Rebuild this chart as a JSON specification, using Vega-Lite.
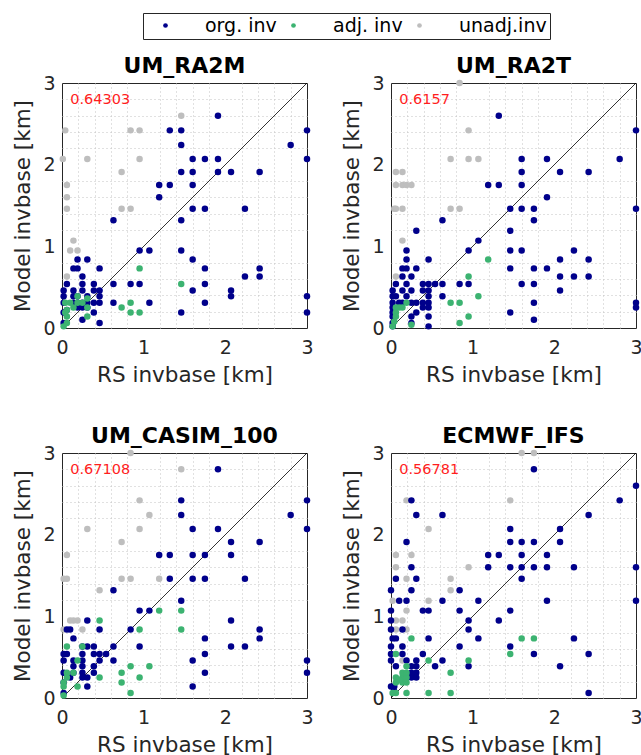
{
  "$schema": "https://vega.github.io/schema/vega-lite/v6.json",
  "background": "white",
  "padding": {"left": 12, "top": 12, "right": 5, "bottom": 5},
  "datasets": {
    "ra2m": [
      {"t":"u","x":1.46,"y":2.60},{"t":"u","x":0.04,"y":2.42},{"t":"u","x":0.84,"y":2.42},{"t":"u","x":0.95,"y":2.42},{"t":"u","x":0.01,"y":2.07},{"t":"u","x":0.31,"y":2.07},{"t":"u","x":0.95,"y":2.07},{"t":"u","x":0.73,"y":1.91},{"t":"u","x":0.06,"y":1.75},{"t":"u","x":0.06,"y":1.60},{"t":"u","x":0.06,"y":1.46},{"t":"u","x":0.73,"y":1.46},{"t":"u","x":0.84,"y":1.46},{"t":"u","x":0.14,"y":1.07},{"t":"u","x":0.10,"y":0.95},{"t":"u","x":0.19,"y":0.95},{"t":"u","x":0.06,"y":0.63},
      {"t":"o","x":1.91,"y":2.60},{"t":"o","x":1.32,"y":2.42},{"t":"o","x":1.46,"y":2.42},{"t":"o","x":1.46,"y":2.24},{"t":"o","x":1.60,"y":2.07},{"t":"o","x":1.75,"y":2.07},{"t":"o","x":1.91,"y":2.07},{"t":"o","x":1.46,"y":1.91},{"t":"o","x":1.60,"y":1.91},{"t":"o","x":1.91,"y":1.91},{"t":"o","x":2.07,"y":1.91},{"t":"o","x":2.42,"y":1.91},{"t":"o","x":1.19,"y":1.75},{"t":"o","x":1.32,"y":1.75},{"t":"o","x":1.60,"y":1.75},{"t":"o","x":1.19,"y":1.60},{"t":"o","x":1.60,"y":1.46},{"t":"o","x":1.75,"y":1.46},{"t":"o","x":2.24,"y":1.46},{"t":"o","x":0.63,"y":1.32},{"t":"o","x":1.46,"y":1.32},{"t":"o","x":0.95,"y":0.95},{"t":"o","x":1.07,"y":0.95},{"t":"o","x":1.46,"y":0.95},{"t":"o","x":0.19,"y":0.84},{"t":"o","x":0.31,"y":0.84},{"t":"o","x":1.60,"y":0.84},{"t":"o","x":0.14,"y":0.73},{"t":"o","x":0.19,"y":0.73},{"t":"o","x":0.46,"y":0.73},{"t":"o","x":1.75,"y":0.73},{"t":"o","x":2.42,"y":0.73},{"t":"o","x":0.25,"y":0.63},{"t":"o","x":2.24,"y":0.63},{"t":"o","x":2.42,"y":0.63},{"t":"o","x":0.06,"y":0.54},{"t":"o","x":0.25,"y":0.54},{"t":"o","x":0.39,"y":0.54},{"t":"o","x":0.63,"y":0.54},{"t":"o","x":0.84,"y":0.54},{"t":"o","x":0.95,"y":0.54},{"t":"o","x":1.75,"y":0.54},{"t":"o","x":0.02,"y":0.46},{"t":"o","x":0.14,"y":0.46},{"t":"o","x":0.25,"y":0.46},{"t":"o","x":0.39,"y":0.46},{"t":"o","x":0.46,"y":0.46},{"t":"o","x":1.60,"y":0.46},{"t":"o","x":2.07,"y":0.46},{"t":"o","x":0.02,"y":0.39},{"t":"o","x":0.19,"y":0.39},{"t":"o","x":0.31,"y":0.39},{"t":"o","x":0.46,"y":0.39},{"t":"o","x":2.07,"y":0.39},{"t":"o","x":0.02,"y":0.31},{"t":"o","x":0.25,"y":0.31},{"t":"o","x":0.31,"y":0.31},{"t":"o","x":0.39,"y":0.31},{"t":"o","x":0.46,"y":0.31},{"t":"o","x":0.63,"y":0.31},{"t":"o","x":1.07,"y":0.31},{"t":"o","x":1.75,"y":0.31},{"t":"o","x":0.19,"y":0.25},{"t":"o","x":0.31,"y":0.25},{"t":"o","x":0.02,"y":0.19},{"t":"o","x":0.39,"y":0.19},{"t":"o","x":1.46,"y":0.19},{"t":"o","x":0.25,"y":0.10},{"t":"o","x":0.02,"y":0.06},{"t":"o","x":0.46,"y":0.06},{"t":"o","x":0.14,"y":0.31},{"t":"o","x":0.06,"y":0.22},{"t":"o","x":2.80,"y":2.24},{"t":"o","x":3.0,"y":2.42},{"t":"o","x":3.0,"y":2.07},{"t":"o","x":3.0,"y":0.39},{"t":"o","x":3.0,"y":0.19},{"t":"o","x":0.19,"y":0.31},{"t":"o","x":0.25,"y":0.25},{"t":"o","x":0.14,"y":0.39},
      {"t":"a","x":0.95,"y":0.73},{"t":"a","x":1.46,"y":0.54},{"t":"a","x":0.19,"y":0.39},{"t":"a","x":0.04,"y":0.31},{"t":"a","x":0.10,"y":0.31},{"t":"a","x":0.31,"y":0.36},{"t":"a","x":0.31,"y":0.25},{"t":"a","x":0.73,"y":0.25},{"t":"a","x":0.84,"y":0.31},{"t":"a","x":0.84,"y":0.19},{"t":"a","x":0.95,"y":0.19},{"t":"a","x":0.31,"y":0.14},{"t":"a","x":0.06,"y":0.22},{"t":"a","x":0.06,"y":0.14},{"t":"a","x":0.06,"y":0.06},{"t":"a","x":0.02,"y":0.02},{"t":"a","x":0.14,"y":0.25},{"t":"a","x":0.04,"y":0.19},{"t":"a","x":0.19,"y":0.31},{"t":"a","x":0.25,"y":0.31}
    ],
    "ra2t": [
      {"t":"u","x":0.84,"y":3.0},{"t":"u","x":0.95,"y":2.42},{"t":"u","x":0.73,"y":2.07},{"t":"u","x":0.95,"y":2.07},{"t":"u","x":1.07,"y":2.07},{"t":"u","x":0.06,"y":1.91},{"t":"u","x":0.14,"y":1.91},{"t":"u","x":0.06,"y":1.75},{"t":"u","x":0.14,"y":1.75},{"t":"u","x":0.19,"y":1.75},{"t":"u","x":0.25,"y":1.75},{"t":"u","x":0.04,"y":1.46},{"t":"u","x":0.06,"y":1.46},{"t":"u","x":0.14,"y":1.46},{"t":"u","x":0.73,"y":1.46},{"t":"u","x":0.84,"y":1.46},{"t":"u","x":0.14,"y":1.07},{"t":"u","x":0.06,"y":0.63},
      {"t":"o","x":1.32,"y":2.60},{"t":"o","x":3.0,"y":2.42},{"t":"o","x":1.60,"y":2.07},{"t":"o","x":1.91,"y":2.07},{"t":"o","x":2.80,"y":2.07},{"t":"o","x":1.60,"y":1.91},{"t":"o","x":2.07,"y":1.91},{"t":"o","x":2.42,"y":1.91},{"t":"o","x":1.19,"y":1.75},{"t":"o","x":1.32,"y":1.75},{"t":"o","x":1.60,"y":1.75},{"t":"o","x":1.91,"y":1.60},{"t":"o","x":1.46,"y":1.46},{"t":"o","x":1.60,"y":1.46},{"t":"o","x":1.75,"y":1.46},{"t":"o","x":3.0,"y":1.46},{"t":"o","x":0.63,"y":1.32},{"t":"o","x":1.75,"y":1.32},{"t":"o","x":0.31,"y":1.19},{"t":"o","x":1.46,"y":1.19},{"t":"o","x":1.07,"y":1.07},{"t":"o","x":0.19,"y":0.95},{"t":"o","x":0.95,"y":0.95},{"t":"o","x":1.46,"y":0.95},{"t":"o","x":1.60,"y":0.95},{"t":"o","x":2.24,"y":0.95},{"t":"o","x":0.19,"y":0.84},{"t":"o","x":0.46,"y":0.84},{"t":"o","x":2.07,"y":0.84},{"t":"o","x":2.42,"y":0.84},{"t":"o","x":0.14,"y":0.73},{"t":"o","x":0.19,"y":0.73},{"t":"o","x":0.31,"y":0.73},{"t":"o","x":1.46,"y":0.73},{"t":"o","x":1.75,"y":0.73},{"t":"o","x":1.91,"y":0.73},{"t":"o","x":0.14,"y":0.63},{"t":"o","x":0.25,"y":0.63},{"t":"o","x":2.07,"y":0.63},{"t":"o","x":2.24,"y":0.63},{"t":"o","x":2.42,"y":0.63},{"t":"o","x":0.06,"y":0.54},{"t":"o","x":0.19,"y":0.54},{"t":"o","x":0.39,"y":0.54},{"t":"o","x":0.46,"y":0.54},{"t":"o","x":0.54,"y":0.54},{"t":"o","x":0.63,"y":0.54},{"t":"o","x":0.84,"y":0.54},{"t":"o","x":0.95,"y":0.54},{"t":"o","x":1.60,"y":0.54},{"t":"o","x":1.75,"y":0.54},{"t":"o","x":0.02,"y":0.46},{"t":"o","x":0.14,"y":0.46},{"t":"o","x":0.25,"y":0.46},{"t":"o","x":0.39,"y":0.46},{"t":"o","x":0.46,"y":0.46},{"t":"o","x":2.07,"y":0.46},{"t":"o","x":0.02,"y":0.39},{"t":"o","x":0.19,"y":0.39},{"t":"o","x":0.46,"y":0.39},{"t":"o","x":0.63,"y":0.39},{"t":"o","x":0.02,"y":0.31},{"t":"o","x":0.14,"y":0.31},{"t":"o","x":0.25,"y":0.31},{"t":"o","x":0.31,"y":0.31},{"t":"o","x":0.39,"y":0.31},{"t":"o","x":0.46,"y":0.31},{"t":"o","x":1.75,"y":0.31},{"t":"o","x":3.0,"y":0.31},{"t":"o","x":0.02,"y":0.25},{"t":"o","x":0.39,"y":0.25},{"t":"o","x":0.46,"y":0.25},{"t":"o","x":3.0,"y":0.25},{"t":"o","x":0.02,"y":0.19},{"t":"o","x":0.31,"y":0.19},{"t":"o","x":1.46,"y":0.19},{"t":"o","x":0.02,"y":0.14},{"t":"o","x":0.25,"y":0.14},{"t":"o","x":0.46,"y":0.14},{"t":"o","x":1.75,"y":0.10},{"t":"o","x":0.02,"y":0.06},{"t":"o","x":0.25,"y":0.06},{"t":"o","x":0.46,"y":0.02},{"t":"o","x":0.02,"y":0.02},{"t":"o","x":0.06,"y":0.39},{"t":"o","x":0.10,"y":0.31},
      {"t":"a","x":1.19,"y":0.84},{"t":"a","x":0.95,"y":0.63},{"t":"a","x":1.07,"y":0.39},{"t":"a","x":0.73,"y":0.31},{"t":"a","x":0.84,"y":0.31},{"t":"a","x":0.95,"y":0.14},{"t":"a","x":0.84,"y":0.06},{"t":"a","x":0.25,"y":0.04},{"t":"a","x":0.19,"y":0.31},{"t":"a","x":0.06,"y":0.25},{"t":"a","x":0.14,"y":0.25},{"t":"a","x":0.06,"y":0.19},{"t":"a","x":0.06,"y":0.14},{"t":"a","x":0.04,"y":0.08},{"t":"a","x":0.02,"y":0.02},{"t":"a","x":0.10,"y":0.25}
    ],
    "casim": [
      {"t":"u","x":0.84,"y":3.0},{"t":"u","x":1.46,"y":2.80},{"t":"u","x":0.95,"y":2.42},{"t":"u","x":1.07,"y":2.24},{"t":"u","x":0.31,"y":2.07},{"t":"u","x":0.95,"y":2.07},{"t":"u","x":0.73,"y":1.91},{"t":"u","x":0.06,"y":1.75},{"t":"u","x":0.02,"y":1.46},{"t":"u","x":0.06,"y":1.46},{"t":"u","x":0.73,"y":1.46},{"t":"u","x":0.84,"y":1.46},{"t":"u","x":1.19,"y":1.46},{"t":"u","x":0.46,"y":1.32},{"t":"u","x":0.10,"y":0.95},{"t":"u","x":0.14,"y":0.95},{"t":"u","x":0.19,"y":0.95},{"t":"u","x":0.02,"y":0.84},{"t":"u","x":0.25,"y":0.84},
      {"t":"o","x":1.91,"y":2.80},{"t":"o","x":1.46,"y":2.42},{"t":"o","x":1.46,"y":2.24},{"t":"o","x":1.60,"y":2.07},{"t":"o","x":1.91,"y":2.07},{"t":"o","x":2.07,"y":1.91},{"t":"o","x":2.42,"y":1.91},{"t":"o","x":1.19,"y":1.75},{"t":"o","x":1.32,"y":1.75},{"t":"o","x":1.60,"y":1.75},{"t":"o","x":1.75,"y":1.75},{"t":"o","x":2.07,"y":1.75},{"t":"o","x":1.32,"y":1.46},{"t":"o","x":1.60,"y":1.46},{"t":"o","x":1.75,"y":1.46},{"t":"o","x":2.24,"y":1.46},{"t":"o","x":0.63,"y":1.32},{"t":"o","x":1.46,"y":1.19},{"t":"o","x":0.95,"y":1.07},{"t":"o","x":1.07,"y":1.07},{"t":"o","x":0.31,"y":0.95},{"t":"o","x":2.07,"y":0.95},{"t":"o","x":0.06,"y":0.84},{"t":"o","x":0.10,"y":0.84},{"t":"o","x":0.46,"y":0.84},{"t":"o","x":0.84,"y":0.84},{"t":"o","x":2.42,"y":0.84},{"t":"o","x":0.14,"y":0.73},{"t":"o","x":1.75,"y":0.73},{"t":"o","x":2.42,"y":0.73},{"t":"o","x":0.25,"y":0.63},{"t":"o","x":0.31,"y":0.63},{"t":"o","x":0.39,"y":0.63},{"t":"o","x":0.63,"y":0.63},{"t":"o","x":0.95,"y":0.63},{"t":"o","x":2.07,"y":0.63},{"t":"o","x":2.24,"y":0.63},{"t":"o","x":0.02,"y":0.54},{"t":"o","x":0.06,"y":0.54},{"t":"o","x":0.25,"y":0.54},{"t":"o","x":0.39,"y":0.54},{"t":"o","x":0.46,"y":0.54},{"t":"o","x":0.54,"y":0.54},{"t":"o","x":1.75,"y":0.54},{"t":"o","x":0.02,"y":0.46},{"t":"o","x":0.14,"y":0.46},{"t":"o","x":0.25,"y":0.46},{"t":"o","x":0.46,"y":0.46},{"t":"o","x":0.63,"y":0.46},{"t":"o","x":1.60,"y":0.46},{"t":"o","x":0.14,"y":0.39},{"t":"o","x":0.25,"y":0.39},{"t":"o","x":0.39,"y":0.39},{"t":"o","x":0.02,"y":0.31},{"t":"o","x":0.14,"y":0.31},{"t":"o","x":0.25,"y":0.31},{"t":"o","x":0.39,"y":0.31},{"t":"o","x":1.75,"y":0.31},{"t":"o","x":0.10,"y":0.25},{"t":"o","x":0.25,"y":0.25},{"t":"o","x":0.31,"y":0.25},{"t":"o","x":0.02,"y":0.19},{"t":"o","x":0.31,"y":0.14},{"t":"o","x":1.60,"y":0.14},{"t":"o","x":0.02,"y":0.06},{"t":"o","x":2.80,"y":2.24},{"t":"o","x":3.0,"y":2.42},{"t":"o","x":3.0,"y":2.07},{"t":"o","x":3.0,"y":0.46},{"t":"o","x":3.0,"y":0.31},
      {"t":"a","x":1.19,"y":1.07},{"t":"a","x":1.46,"y":1.07},{"t":"a","x":0.46,"y":0.95},{"t":"a","x":0.95,"y":0.84},{"t":"a","x":1.46,"y":0.84},{"t":"a","x":0.06,"y":0.63},{"t":"a","x":0.25,"y":0.63},{"t":"a","x":0.19,"y":0.46},{"t":"a","x":0.84,"y":0.39},{"t":"a","x":1.07,"y":0.39},{"t":"a","x":0.73,"y":0.31},{"t":"a","x":0.46,"y":0.25},{"t":"a","x":0.95,"y":0.25},{"t":"a","x":0.73,"y":0.19},{"t":"a","x":0.84,"y":0.06},{"t":"a","x":0.06,"y":0.31},{"t":"a","x":0.14,"y":0.31},{"t":"a","x":0.06,"y":0.25},{"t":"a","x":0.02,"y":0.19},{"t":"a","x":0.19,"y":0.14},{"t":"a","x":0.02,"y":0.14},{"t":"a","x":0.02,"y":0.03}
    ],
    "ifs": [
      {"t":"u","x":1.60,"y":3.0},{"t":"u","x":1.75,"y":3.0},{"t":"u","x":0.19,"y":2.42},{"t":"u","x":1.46,"y":2.42},{"t":"u","x":0.46,"y":2.07},{"t":"u","x":0.06,"y":1.75},{"t":"u","x":0.25,"y":1.75},{"t":"u","x":0.06,"y":1.60},{"t":"u","x":0.95,"y":1.60},{"t":"u","x":0.19,"y":1.46},{"t":"u","x":0.73,"y":1.46},{"t":"u","x":0.73,"y":1.32},{"t":"u","x":0.02,"y":1.19},{"t":"u","x":0.46,"y":1.19},{"t":"u","x":0.19,"y":1.07},{"t":"u","x":0.06,"y":0.95},{"t":"u","x":0.14,"y":0.95},{"t":"u","x":0.06,"y":0.84},{"t":"u","x":0.19,"y":0.84},{"t":"u","x":0.14,"y":0.63},{"t":"u","x":0.14,"y":0.46},
      {"t":"o","x":1.75,"y":2.80},{"t":"o","x":3.0,"y":2.60},{"t":"o","x":0.25,"y":2.42},{"t":"o","x":2.80,"y":2.42},{"t":"o","x":0.31,"y":2.24},{"t":"o","x":0.63,"y":2.24},{"t":"o","x":2.42,"y":2.24},{"t":"o","x":1.46,"y":2.07},{"t":"o","x":2.07,"y":2.07},{"t":"o","x":0.19,"y":1.91},{"t":"o","x":1.46,"y":1.91},{"t":"o","x":1.60,"y":1.91},{"t":"o","x":1.75,"y":1.91},{"t":"o","x":2.07,"y":1.91},{"t":"o","x":1.19,"y":1.75},{"t":"o","x":1.32,"y":1.75},{"t":"o","x":1.60,"y":1.75},{"t":"o","x":1.91,"y":1.75},{"t":"o","x":0.25,"y":1.60},{"t":"o","x":1.19,"y":1.60},{"t":"o","x":1.46,"y":1.60},{"t":"o","x":1.60,"y":1.60},{"t":"o","x":1.75,"y":1.60},{"t":"o","x":1.91,"y":1.60},{"t":"o","x":2.24,"y":1.60},{"t":"o","x":3.0,"y":1.60},{"t":"o","x":0.06,"y":1.46},{"t":"o","x":0.31,"y":1.46},{"t":"o","x":1.60,"y":1.46},{"t":"o","x":0.0,"y":1.32},{"t":"o","x":0.25,"y":1.32},{"t":"o","x":0.84,"y":1.32},{"t":"o","x":0.10,"y":1.19},{"t":"o","x":0.19,"y":1.19},{"t":"o","x":0.63,"y":1.19},{"t":"o","x":1.07,"y":1.19},{"t":"o","x":1.91,"y":1.19},{"t":"o","x":3.0,"y":1.19},{"t":"o","x":0.0,"y":1.07},{"t":"o","x":0.39,"y":1.07},{"t":"o","x":0.46,"y":1.07},{"t":"o","x":0.84,"y":1.07},{"t":"o","x":1.46,"y":1.07},{"t":"o","x":1.32,"y":0.95},{"t":"o","x":0.0,"y":0.95},{"t":"o","x":0.95,"y":0.95},{"t":"o","x":0.0,"y":0.84},{"t":"o","x":0.14,"y":0.84},{"t":"o","x":0.95,"y":0.84},{"t":"o","x":0.02,"y":0.73},{"t":"o","x":0.06,"y":0.73},{"t":"o","x":0.46,"y":0.73},{"t":"o","x":1.07,"y":0.73},{"t":"o","x":2.24,"y":0.73},{"t":"o","x":0.0,"y":0.63},{"t":"o","x":0.14,"y":0.63},{"t":"o","x":0.84,"y":0.63},{"t":"o","x":1.46,"y":0.63},{"t":"o","x":0.0,"y":0.54},{"t":"o","x":0.14,"y":0.54},{"t":"o","x":0.39,"y":0.54},{"t":"o","x":1.75,"y":0.54},{"t":"o","x":2.42,"y":0.54},{"t":"o","x":0.0,"y":0.46},{"t":"o","x":0.19,"y":0.46},{"t":"o","x":0.31,"y":0.46},{"t":"o","x":0.63,"y":0.46},{"t":"o","x":0.06,"y":0.39},{"t":"o","x":0.25,"y":0.39},{"t":"o","x":0.31,"y":0.39},{"t":"o","x":0.54,"y":0.39},{"t":"o","x":0.95,"y":0.39},{"t":"o","x":2.07,"y":0.39},{"t":"o","x":0.25,"y":0.31},{"t":"o","x":0.31,"y":0.31},{"t":"o","x":0.25,"y":0.25},{"t":"o","x":0.31,"y":0.25},{"t":"o","x":0.0,"y":0.14},{"t":"o","x":0.04,"y":0.14},{"t":"o","x":2.42,"y":0.06},{"t":"o","x":0.04,"y":0.08},
      {"t":"a","x":0.25,"y":0.73},{"t":"a","x":1.60,"y":0.73},{"t":"a","x":1.75,"y":0.73},{"t":"a","x":0.06,"y":0.54},{"t":"a","x":1.46,"y":0.54},{"t":"a","x":0.46,"y":0.46},{"t":"a","x":0.95,"y":0.46},{"t":"a","x":0.19,"y":0.39},{"t":"a","x":0.73,"y":0.31},{"t":"a","x":0.06,"y":0.25},{"t":"a","x":0.14,"y":0.25},{"t":"a","x":0.19,"y":0.25},{"t":"a","x":0.06,"y":0.19},{"t":"a","x":0.14,"y":0.19},{"t":"a","x":0.19,"y":0.19},{"t":"a","x":0.02,"y":0.06},{"t":"a","x":0.06,"y":0.06},{"t":"a","x":0.19,"y":0.06},{"t":"a","x":0.46,"y":0.06},{"t":"a","x":0.73,"y":0.06},{"t":"a","x":0.14,"y":0.31},{"t":"a","x":0.19,"y":0.31},{"t":"a","x":0.10,"y":0.22}
    ]
  },
  "columns": 2,
  "bounds": "flush",
  "spacing": {"row": 125, "column": 84},
  "concat": [
    {
      "width": 245, "height": 245,
      "title": {"text": "UM_RA2M"},
      "layer": [
        {"data": {"values": [{}]}, "mark": {"type": "rule", "color": "black", "strokeWidth": 0.8},
         "encoding": {
           "x": {"datum": 0, "type": "quantitative", "scale": {"domain": [0, 3], "nice": false, "zero": false}, "axis": {"orient": "top", "values": [0.2,0.4,0.6,0.8,1.2,1.4,1.6,1.8,2.2,2.4,2.6,2.8], "gridDash": [1,3], "gridColor": "#C2C2C2", "labels": false, "title": null}},
           "y": {"datum": 0, "type": "quantitative", "scale": {"domain": [0, 3], "nice": false, "zero": false}, "axis": {"orient": "right", "values": [0.2,0.4,0.6,0.8,1.2,1.4,1.6,1.8,2.2,2.4,2.6,2.8], "gridDash": [1,3], "gridColor": "#C2C2C2", "labels": false, "title": null}},
           "x2": {"datum": 3}, "y2": {"datum": 3}
         }},
        {"data": {"name": "ra2m"}, "mark": {"type": "point", "filled": true, "size": 42, "opacity": 1, "strokeWidth": 0},
         "encoding": {
           "x": {"field": "x", "type": "quantitative", "axis": {"values": [0,1,2,3], "title": "RS invbase [km]"}},
           "y": {"field": "y", "type": "quantitative", "axis": {"values": [0,1,2,3], "title": "Model invbase [km]"}},
           "color": {"field": "t", "type": "nominal", "scale": {"domain": ["o","a","u"], "range": ["#00008B","#3CB371","#BEBEBE"]}, "legend": {"labelExpr": "datum.label == 'o' ? 'org. inv' : datum.label == 'a' ? 'adj. inv' : 'unadj.inv'"}}
         }},
        {"data": {"values": [{"r": "0.64303"}]}, "mark": {"type": "text", "color": "#FF1E1E", "fontSize": 14.5, "align": "left", "baseline": "middle"},
         "encoding": {"x": {"datum": 0.1, "type": "quantitative", "axis": null}, "y": {"datum": 2.79, "type": "quantitative", "axis": null}, "text": {"field": "r"}}}
      ],
      "resolve": {"axis": {"x": "independent", "y": "independent"}}
    },
    {
      "width": 245, "height": 245,
      "title": {"text": "UM_RA2T"},
      "layer": [
        {"data": {"values": [{}]}, "mark": {"type": "rule", "color": "black", "strokeWidth": 0.8},
         "encoding": {
           "x": {"datum": 0, "type": "quantitative", "scale": {"domain": [0, 3], "nice": false, "zero": false}, "axis": {"orient": "top", "values": [0.2,0.4,0.6,0.8,1.2,1.4,1.6,1.8,2.2,2.4,2.6,2.8], "gridDash": [1,3], "gridColor": "#C2C2C2", "labels": false, "title": null}},
           "y": {"datum": 0, "type": "quantitative", "scale": {"domain": [0, 3], "nice": false, "zero": false}, "axis": {"orient": "right", "values": [0.2,0.4,0.6,0.8,1.2,1.4,1.6,1.8,2.2,2.4,2.6,2.8], "gridDash": [1,3], "gridColor": "#C2C2C2", "labels": false, "title": null}},
           "x2": {"datum": 3}, "y2": {"datum": 3}
         }},
        {"data": {"name": "ra2t"}, "mark": {"type": "point", "filled": true, "size": 42, "opacity": 1, "strokeWidth": 0},
         "encoding": {
           "x": {"field": "x", "type": "quantitative", "axis": {"values": [0,1,2,3], "title": "RS invbase [km]"}},
           "y": {"field": "y", "type": "quantitative", "axis": {"values": [0,1,2,3], "title": "Model invbase [km]"}},
           "color": {"field": "t", "type": "nominal", "scale": {"domain": ["o","a","u"], "range": ["#00008B","#3CB371","#BEBEBE"]}, "legend": {"labelExpr": "datum.label == 'o' ? 'org. inv' : datum.label == 'a' ? 'adj. inv' : 'unadj.inv'"}}
         }},
        {"data": {"values": [{"r": "0.6157"}]}, "mark": {"type": "text", "color": "#FF1E1E", "fontSize": 14.5, "align": "left", "baseline": "middle"},
         "encoding": {"x": {"datum": 0.1, "type": "quantitative", "axis": null}, "y": {"datum": 2.79, "type": "quantitative", "axis": null}, "text": {"field": "r"}}}
      ],
      "resolve": {"axis": {"x": "independent", "y": "independent"}}
    },
    {
      "width": 245, "height": 245,
      "title": {"text": "UM_CASIM_100"},
      "layer": [
        {"data": {"values": [{}]}, "mark": {"type": "rule", "color": "black", "strokeWidth": 0.8},
         "encoding": {
           "x": {"datum": 0, "type": "quantitative", "scale": {"domain": [0, 3], "nice": false, "zero": false}, "axis": {"orient": "top", "values": [0.2,0.4,0.6,0.8,1.2,1.4,1.6,1.8,2.2,2.4,2.6,2.8], "gridDash": [1,3], "gridColor": "#C2C2C2", "labels": false, "title": null}},
           "y": {"datum": 0, "type": "quantitative", "scale": {"domain": [0, 3], "nice": false, "zero": false}, "axis": {"orient": "right", "values": [0.2,0.4,0.6,0.8,1.2,1.4,1.6,1.8,2.2,2.4,2.6,2.8], "gridDash": [1,3], "gridColor": "#C2C2C2", "labels": false, "title": null}},
           "x2": {"datum": 3}, "y2": {"datum": 3}
         }},
        {"data": {"name": "casim"}, "mark": {"type": "point", "filled": true, "size": 42, "opacity": 1, "strokeWidth": 0},
         "encoding": {
           "x": {"field": "x", "type": "quantitative", "axis": {"values": [0,1,2,3], "title": "RS invbase [km]"}},
           "y": {"field": "y", "type": "quantitative", "axis": {"values": [0,1,2,3], "title": "Model invbase [km]"}},
           "color": {"field": "t", "type": "nominal", "scale": {"domain": ["o","a","u"], "range": ["#00008B","#3CB371","#BEBEBE"]}, "legend": {"labelExpr": "datum.label == 'o' ? 'org. inv' : datum.label == 'a' ? 'adj. inv' : 'unadj.inv'"}}
         }},
        {"data": {"values": [{"r": "0.67108"}]}, "mark": {"type": "text", "color": "#FF1E1E", "fontSize": 14.5, "align": "left", "baseline": "middle"},
         "encoding": {"x": {"datum": 0.1, "type": "quantitative", "axis": null}, "y": {"datum": 2.79, "type": "quantitative", "axis": null}, "text": {"field": "r"}}}
      ],
      "resolve": {"axis": {"x": "independent", "y": "independent"}}
    },
    {
      "width": 245, "height": 245,
      "title": {"text": "ECMWF_IFS"},
      "layer": [
        {"data": {"values": [{}]}, "mark": {"type": "rule", "color": "black", "strokeWidth": 0.8},
         "encoding": {
           "x": {"datum": 0, "type": "quantitative", "scale": {"domain": [0, 3], "nice": false, "zero": false}, "axis": {"orient": "top", "values": [0.2,0.4,0.6,0.8,1.2,1.4,1.6,1.8,2.2,2.4,2.6,2.8], "gridDash": [1,3], "gridColor": "#C2C2C2", "labels": false, "title": null}},
           "y": {"datum": 0, "type": "quantitative", "scale": {"domain": [0, 3], "nice": false, "zero": false}, "axis": {"orient": "right", "values": [0.2,0.4,0.6,0.8,1.2,1.4,1.6,1.8,2.2,2.4,2.6,2.8], "gridDash": [1,3], "gridColor": "#C2C2C2", "labels": false, "title": null}},
           "x2": {"datum": 3}, "y2": {"datum": 3}
         }},
        {"data": {"name": "ifs"}, "mark": {"type": "point", "filled": true, "size": 42, "opacity": 1, "strokeWidth": 0},
         "encoding": {
           "x": {"field": "x", "type": "quantitative", "axis": {"values": [0,1,2,3], "title": "RS invbase [km]"}},
           "y": {"field": "y", "type": "quantitative", "axis": {"values": [0,1,2,3], "title": "Model invbase [km]"}},
           "color": {"field": "t", "type": "nominal", "scale": {"domain": ["o","a","u"], "range": ["#00008B","#3CB371","#BEBEBE"]}, "legend": {"labelExpr": "datum.label == 'o' ? 'org. inv' : datum.label == 'a' ? 'adj. inv' : 'unadj.inv'"}}
         }},
        {"data": {"values": [{"r": "0.56781"}]}, "mark": {"type": "text", "color": "#FF1E1E", "fontSize": 14.5, "align": "left", "baseline": "middle"},
         "encoding": {"x": {"datum": 0.1, "type": "quantitative", "axis": null}, "y": {"datum": 2.79, "type": "quantitative", "axis": null}, "text": {"field": "r"}}}
      ],
      "resolve": {"axis": {"x": "independent", "y": "independent"}}
    }
  ],
  "config": {
    "font": "DejaVu Sans",
    "view": {"stroke": "#262626", "strokeWidth": 1},
    "axis": {
      "domain": false, "ticks": false, "grid": true, "gridColor": "#DEDEDE", "gridWidth": 1,
      "labelFontSize": 19, "labelColor": "#262626", "labelFlush": false, "labelOverlap": false,
      "titleFontSize": 21.5, "titleFontWeight": "normal", "titleColor": "#262626"
    },
    "axisX": {"labelPadding": 10, "titlePadding": 7},
    "axisY": {"labelPadding": 7, "titlePadding": 8},
    "title": {"fontSize": 22, "fontWeight": "bold", "color": "black", "anchor": "middle", "offset": -4, "frame": "group"},
    "legend": {
      "orient": "none", "legendX": 81, "legendY": -70, "direction": "horizontal", "title": null,
      "strokeColor": "#262626", "fillColor": "white", "padding": 3, "gridAlign": "none",
      "symbolType": "circle", "symbolSize": 22, "symbolStrokeWidth": 0, "symbolOffset": 10,
      "labelFontSize": 19, "labelColor": "#000000", "labelOffset": 30, "columnPadding": -3
    }
  }
}
